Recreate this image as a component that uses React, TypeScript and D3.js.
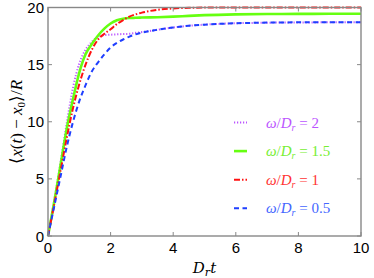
import * as d3 from 'd3';
import React from 'react';

// time samples (D_r t)
const times = [0, 0.2, 0.4, 0.6, 0.8, 1, 1.2, 1.4, 1.6, 1.8, 2, 2.2, 2.4, 2.6, 2.8, 3, 3.5, 4, 4.5, 5, 6, 7, 8, 9, 10];

const w2 = [0, 3.1, 6.4, 9.9, 13.0, 15.1, 16.3, 17.0, 17.42, 17.58, 17.62, 17.65, 17.68, 17.7, 17.78, 17.85, 18.05, 18.25, 18.4, 18.5, 18.62, 18.67, 18.69, 18.7, 18.7];
const w15 = [0, 3.0, 6.2, 9.4, 12.0, 14.3, 15.9, 16.8, 17.55, 18.15, 18.6, 18.88, 19.02, 19.08, 19.1, 19.12, 19.15, 19.2, 19.27, 19.33, 19.4, 19.43, 19.44, 19.45, 19.45];
const w1 = [0, 2.8, 5.7, 8.6, 11.2, 13.3, 15.0, 16.3, 17.2, 17.7, 18.1, 18.55, 18.9, 19.2, 19.4, 19.55, 19.8, 19.92, 19.97, 20, 20, 20, 20, 20, 20];
const w05 = [0, 2.6, 5.2, 7.8, 10.0, 11.8, 13.2, 14.4, 15.2, 15.9, 16.5, 16.9, 17.2, 17.45, 17.65, 17.8, 18.05, 18.25, 18.4, 18.5, 18.62, 18.68, 18.7, 18.7, 18.7];

const xTicks = [0, 2, 4, 6, 8, 10];
const yTicks = [0, 5, 10, 15, 20];

const series = [
  { label: '2', values: w2, color: '#bb55ff', text: '#bb55ff', dash: '1.2,1.8', width: 2 },
  { label: '1.5', values: w15, color: '#66ff11', text: '#77ee33', dash: null, width: 2.6 },
  { label: '1', values: w1, color: '#ff1111', text: '#ff3333', dash: '6,2,1.5,2', width: 2 },
  { label: '0.5', values: w05, color: '#1f3fff', text: '#4466ff', dash: '5,3.5', width: 2 },
];

const margin = { top: 7.5, right: 13, bottom: 42, left: 48 };
const width = 374;
const height = 278;

export default function App() {
  const x = d3.scaleLinear().domain([0, 10]).range([margin.left, width - margin.right]);
  const y = d3.scaleLinear().domain([0, 20]).range([height - margin.bottom, margin.top]);
  const [x0, x1] = x.range();
  const [yb, yt] = y.range();

  const line = (vals: number[]) =>
    d3.line<number>()
      .x((d, i) => x(times[i]))
      .y((d) => y(d))
      .curve(d3.curveMonotoneX)(vals) as string;

  const axisColor = '#888';
  const tickLen = 4;

  return (
    <svg width={width} height={height} style={{ position: 'absolute', left: 0, top: 0, background: '#fff' }}>
      {/* curves */}
      <g fill="none">
        {series.map((s) => (
          <path key={s.label} d={line(s.values)} stroke={s.color} strokeWidth={s.width}
            strokeDasharray={s.dash || undefined} />
        ))}
      </g>

      {/* frame */}
      <rect x={x0} y={yt} width={x1 - x0} height={yb - yt} fill="none" stroke={axisColor} strokeWidth={1.4} />

      {/* ticks */}
      {xTicks.map((t) => (
        <g key={'x' + t}>
          <line x1={x(t)} x2={x(t)} y1={yb} y2={yb - tickLen} stroke={axisColor} />
          <line x1={x(t)} x2={x(t)} y1={yt} y2={yt + tickLen} stroke={axisColor} />
          <text x={x(t)} y={yb + 17} textAnchor="middle" fontFamily="Liberation Sans, Arial, sans-serif" fontSize={15}>{t}</text>
        </g>
      ))}
      {yTicks.map((t) => (
        <g key={'y' + t}>
          <line x1={x0} x2={x0 + tickLen} y1={y(t)} y2={y(t)} stroke={axisColor} />
          <line x1={x1} x2={x1 - tickLen} y1={y(t)} y2={y(t)} stroke={axisColor} />
          <text x={x0 - 4} y={y(t) + 5.5} textAnchor="end" fontFamily="Liberation Sans, Arial, sans-serif" fontSize={15}>{t}</text>
        </g>
      ))}

      {/* axis labels */}
      <text x={(x0 + x1) / 2} y={height - 5} textAnchor="middle" fontFamily="DejaVu Serif, Liberation Serif, serif" fontSize={15}>
        <tspan fontStyle="italic">D</tspan><tspan fontStyle="italic" fontSize={11} dy={3}>r</tspan><tspan fontStyle="italic" dy={-3}>t</tspan>
      </text>
      <text transform={`translate(22,${(yt + yb) / 2}) rotate(-90)`} textAnchor="middle" fontFamily="Liberation Serif, serif" fontSize={17}>
        ⟨<tspan fontStyle="italic">x</tspan>(<tspan fontStyle="italic">t</tspan>) − <tspan fontStyle="italic">x</tspan><tspan fontSize={11} dy={3}>0</tspan><tspan dy={-3}>⟩/</tspan><tspan fontStyle="italic">R</tspan>
      </text>

      {/* legend */}
      {series.map((s, i) => {
        const ly = 122.5 + i * 28.6;
        return (
          <g key={'lg' + s.label}>
            <line x1={234} x2={247} y1={ly} y2={ly} stroke={s.color} strokeWidth={s.width}
              strokeDasharray={s.dash || undefined} />
            <text x={266} y={ly + 5} fill={s.text} fontFamily="Liberation Serif, serif" fontSize={15}>
              <tspan fontStyle="italic">ω</tspan>/<tspan fontStyle="italic">D</tspan><tspan fontStyle="italic" fontSize={10} dy={3}>r</tspan><tspan dy={-3}> = {s.label}</tspan>
            </text>
          </g>
        );
      })}
    </svg>
  );
}
